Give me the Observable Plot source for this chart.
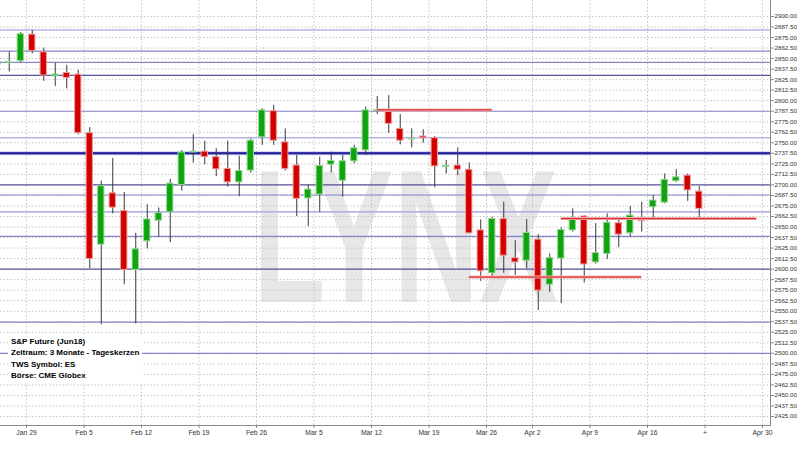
<!DOCTYPE html>
<html><head><meta charset="utf-8">
<script src="https://cdn.jsdelivr.net/npm/d3@7"></script>
<script src="https://cdn.jsdelivr.net/npm/@observablehq/plot@0.6"></script>
<style>
body{margin:0;background:#fff;}
#wrap{position:relative;width:800px;height:450px;overflow:hidden;}
#legend{position:absolute;left:8px;top:335px;background:#fff;font:bold 8px "Liberation Sans",Arial,sans-serif;color:#000;line-height:11.3px;padding:1px 3px 2px 3px;white-space:nowrap;}
</style></head><body>
<div id="wrap"><div id="chart"></div>
<div id="legend"><div>S&amp;P Future (Jun18)</div><div>Zeitraum: 3 Monate - Tageskerzen</div><div>TWS Symbol: ES</div><div>Börse: CME Globex</div></div>
</div>
<script>
// trading calendar (band per trading day, Good Friday closed)
const tradingDays = ["Jan 24","Jan 25","Jan 26","Jan 29","Jan 30","Jan 31",
"Feb 1","Feb 2","Feb 5","Feb 6","Feb 7","Feb 8","Feb 9","Feb 12","Feb 13","Feb 14","Feb 15","Feb 16",
"Feb 19","Feb 20","Feb 21","Feb 22","Feb 23","Feb 26","Feb 27","Feb 28",
"Mar 1","Mar 2","Mar 5","Mar 6","Mar 7","Mar 8","Mar 9","Mar 12","Mar 13","Mar 14","Mar 15","Mar 16",
"Mar 19","Mar 20","Mar 21","Mar 22","Mar 23","Mar 26","Mar 27","Mar 28","Mar 29",
"Apr 2","Apr 3","Apr 4","Apr 5","Apr 6","Apr 9","Apr 10","Apr 11","Apr 12","Apr 13",
"Apr 16","Apr 17","Apr 18","Apr 19","Apr 20","Apr 23","Apr 24","Apr 25","Apr 26","Apr 27","Apr 30"];

const open  = [2843,2845,2847,2878.5,2857.5,2829,2833,2831,2761.5,2629,2690,2669,2599,2633,2657.5,2667.5,2700,2738.5,
2739.5,2733,2719,2703,2717,2756.5,2787.5,2750.5,2723,2684,2688.5,2724,2705,2728,2741,2788,2787,2766.5,2754,2757.5,
2755.5,2721.5,2723,2718,2646,2595,2659.5,2613,2610,2635,2581.5,2612.5,2646,2662.5,2608,2618,2654.5,2642.5,2661,
2673.5,2679,2704.5,2711,2692];
const high  = [2849,2858,2881,2883.5,2862.5,2844.5,2842,2836,2768,2704.5,2731.5,2691,2642.5,2676.5,2672.5,2706.5,2741,2760,
2752,2743,2752,2734,2754.5,2790.5,2794.5,2766.5,2735,2700,2733,2739,2735,2747,2792.5,2805,2806,2783.5,2766.5,2765.5,
2757.5,2729,2744,2726,2658.5,2661.5,2679.5,2634,2659,2641,2618,2649,2671.5,2663.5,2654,2665.5,2661,2674.5,2679.5,
2687.5,2713,2718,2713,2698];
const low   = [2840,2834,2845,2855.5,2823,2817,2814,2759.5,2600.5,2534,2665.5,2581.5,2535,2624,2638,2631.5,2692.5,2726,
2724,2710,2697.5,2686,2714,2747,2747,2716.5,2662.5,2650.5,2667.5,2714.5,2685.5,2725,2735,2783.5,2761.5,2747.5,2744,2749.5,
2696.5,2713,2711,2642,2585.5,2590.5,2595,2592.5,2600.5,2551,2572.5,2559,2644,2583.5,2606,2611.5,2625.5,2638.5,2644,
2659.5,2677.5,2703,2680.5,2659.5];
const close = [2846,2846,2879,2859,2830,2831,2827,2761.5,2612,2698.5,2673,2599,2623.5,2659,2666.5,2701.5,2738.5,2739.5,
2733,2718.5,2703,2716.5,2752.5,2788.5,2752.5,2719,2683.5,2694.5,2722.5,2728.5,2728,2743.5,2788.5,2789,2772.5,2752.5,2755,2755.5,
2722,2722.5,2718,2642.5,2597.5,2659.5,2616,2608,2643,2574.5,2613,2646.5,2661,2605.5,2619,2655,2641,2663.5,2657,
2681.5,2706,2709,2693.5,2671.5];

// horizontal support / resistance levels and their drawing class
const levels     = [2884,2859,2845.5,2830,2787.5,2756,2737.5,2700,2688,2668,2639,2600,2537,2500];
const levelClass = ["light","mid","mid","dark","mid","light","strong","dark","mid","light","mid","dark","mid","mid"];

// red trend/support lines
const redFrom  = ["Mar 12","Mar 22","Apr 4"];
const redTo    = ["Mar 26","Apr 13","Apr 27"];
const redLevel = [2789,2590.5,2660];

// x-axis ticks (week starts) and labels
const tickDays   = ["Jan 29","Feb 5","Feb 12","Feb 19","Feb 26","Mar 5","Mar 12","Mar 19","Mar 26","Apr 2","Apr 9","Apr 16","Apr 23","Apr 30"];
const tickLabels = ["Jan 29","Feb 5","Feb 12","Feb 19","Feb 26","Mar 5","Mar 12","Mar 19","Mar 26","Apr 2","Apr 9","Apr 16","+","Apr 30"];
const yTicks = d3.range(2425, 2900.01, 12.5);

const idx = d => tradingDays.indexOf(d);
const candles = open.map((o, i) => ({i, open: o, high: high[i], low: low[i], close: close[i], up: close[i] >= o}));
const lv = levels.map((v, k) => ({v, c: levelClass[k]}));
const reds = redLevel.map((v, k) => ({x1: idx(redFrom[k]), x2: idx(redTo[k]), v}));
const tickPos = tickDays.map(d => idx(d) - 0.5);
const tickLab = new Map(tickPos.map((p, k) => [p, tickLabels[k]]));

const lvColor = {light: "#b4b4e6", mid: "#8686cc", dark: "#55559a", strong: "#22229a"};
const lvWidth = {light: 1.6, mid: 1.2, dark: 1.2, strong: 2};

const chart = Plot.plot({
  width: 800, height: 450,
  marginLeft: 0, marginRight: 30, marginTop: 0, marginBottom: 25,
  style: {fontFamily: "'Liberation Sans', Arial, sans-serif", fontSize: "7px", color: "#333", background: "#fff"},
  x: {type: "linear", domain: [0.239, 67.196], axis: null},
  y: {domain: [2414.3, 2919.0], axis: null},
  marks: [
    Plot.text(["LYNX"], {frameAnchor: "middle", text: d => d, fontSize: 190, fontWeight: "bold", fill: "#e7e7e7", dx: 20, dy: 28}),
    Plot.gridY({ticks: yTicks, stroke: "#c4c4c4", strokeOpacity: 1, strokeDasharray: "1.5,2"}),
    Plot.gridX({ticks: tickPos, stroke: "#c4c4c4", strokeOpacity: 1, strokeDasharray: "1.5,2"}),
    Plot.ruleY(lv, {y: "v", stroke: d => lvColor[d.c], strokeWidth: d => lvWidth[d.c]}),
    Plot.ruleY(lv.filter(d => d.c === "strong"), {y: "v", stroke: "#9b9be0", strokeWidth: 4, strokeOpacity: 0.5}),
    Plot.ruleY(lv.filter(d => d.c === "strong"), {y: "v", stroke: "#22229a", strokeWidth: 2}),
    Plot.ruleX(candles, {x: "i", y1: "low", y2: "high", stroke: "#3a3a3a", strokeWidth: 1}),
    Plot.rect(candles, {x1: d => d.i - 0.5, x2: d => d.i + 0.5, insetLeft: 2.6, insetRight: 2.6,
      y1: "open", y2: "close",
      fill: d => d.up ? "#0fa30f" : "#d00000",
      stroke: d => d.up ? "#8fd98f" : "#f09a9a", strokeWidth: 1}),
    Plot.ruleY(reds, {x1: "x1", x2: "x2", y: "v", stroke: "#f2b0b0", strokeWidth: 3}),
    Plot.ruleY(reds, {x1: "x1", x2: "x2", y: "v", stroke: "#dd3030", strokeWidth: 1.2}),
    Plot.frame({anchor: "bottom", stroke: "#8a8a8a"}),
    Plot.frame({anchor: "right", stroke: "#8a8a8a"}),
    Plot.axisY({anchor: "right", ticks: yTicks, tickFormat: d3.format(".2f"), tickSize: 3, tickPadding: 1, fontSize: 6.2, stroke: "#8a8a8a", fill: "#333"}),
    Plot.axisX({anchor: "bottom", ticks: tickPos, tickFormat: d => tickLab.get(d), tickSize: 3, tickPadding: 2, fontSize: 6.8, stroke: "#8a8a8a", fill: "#333"})
  ]
});
document.getElementById("chart").appendChild(chart);
d3.select(chart).selectAll("text").filter(function(){ return this.textContent === "LYNX"; })
  .attr("textLength", 305).attr("lengthAdjust", "spacingAndGlyphs");
</script>
</body></html>
